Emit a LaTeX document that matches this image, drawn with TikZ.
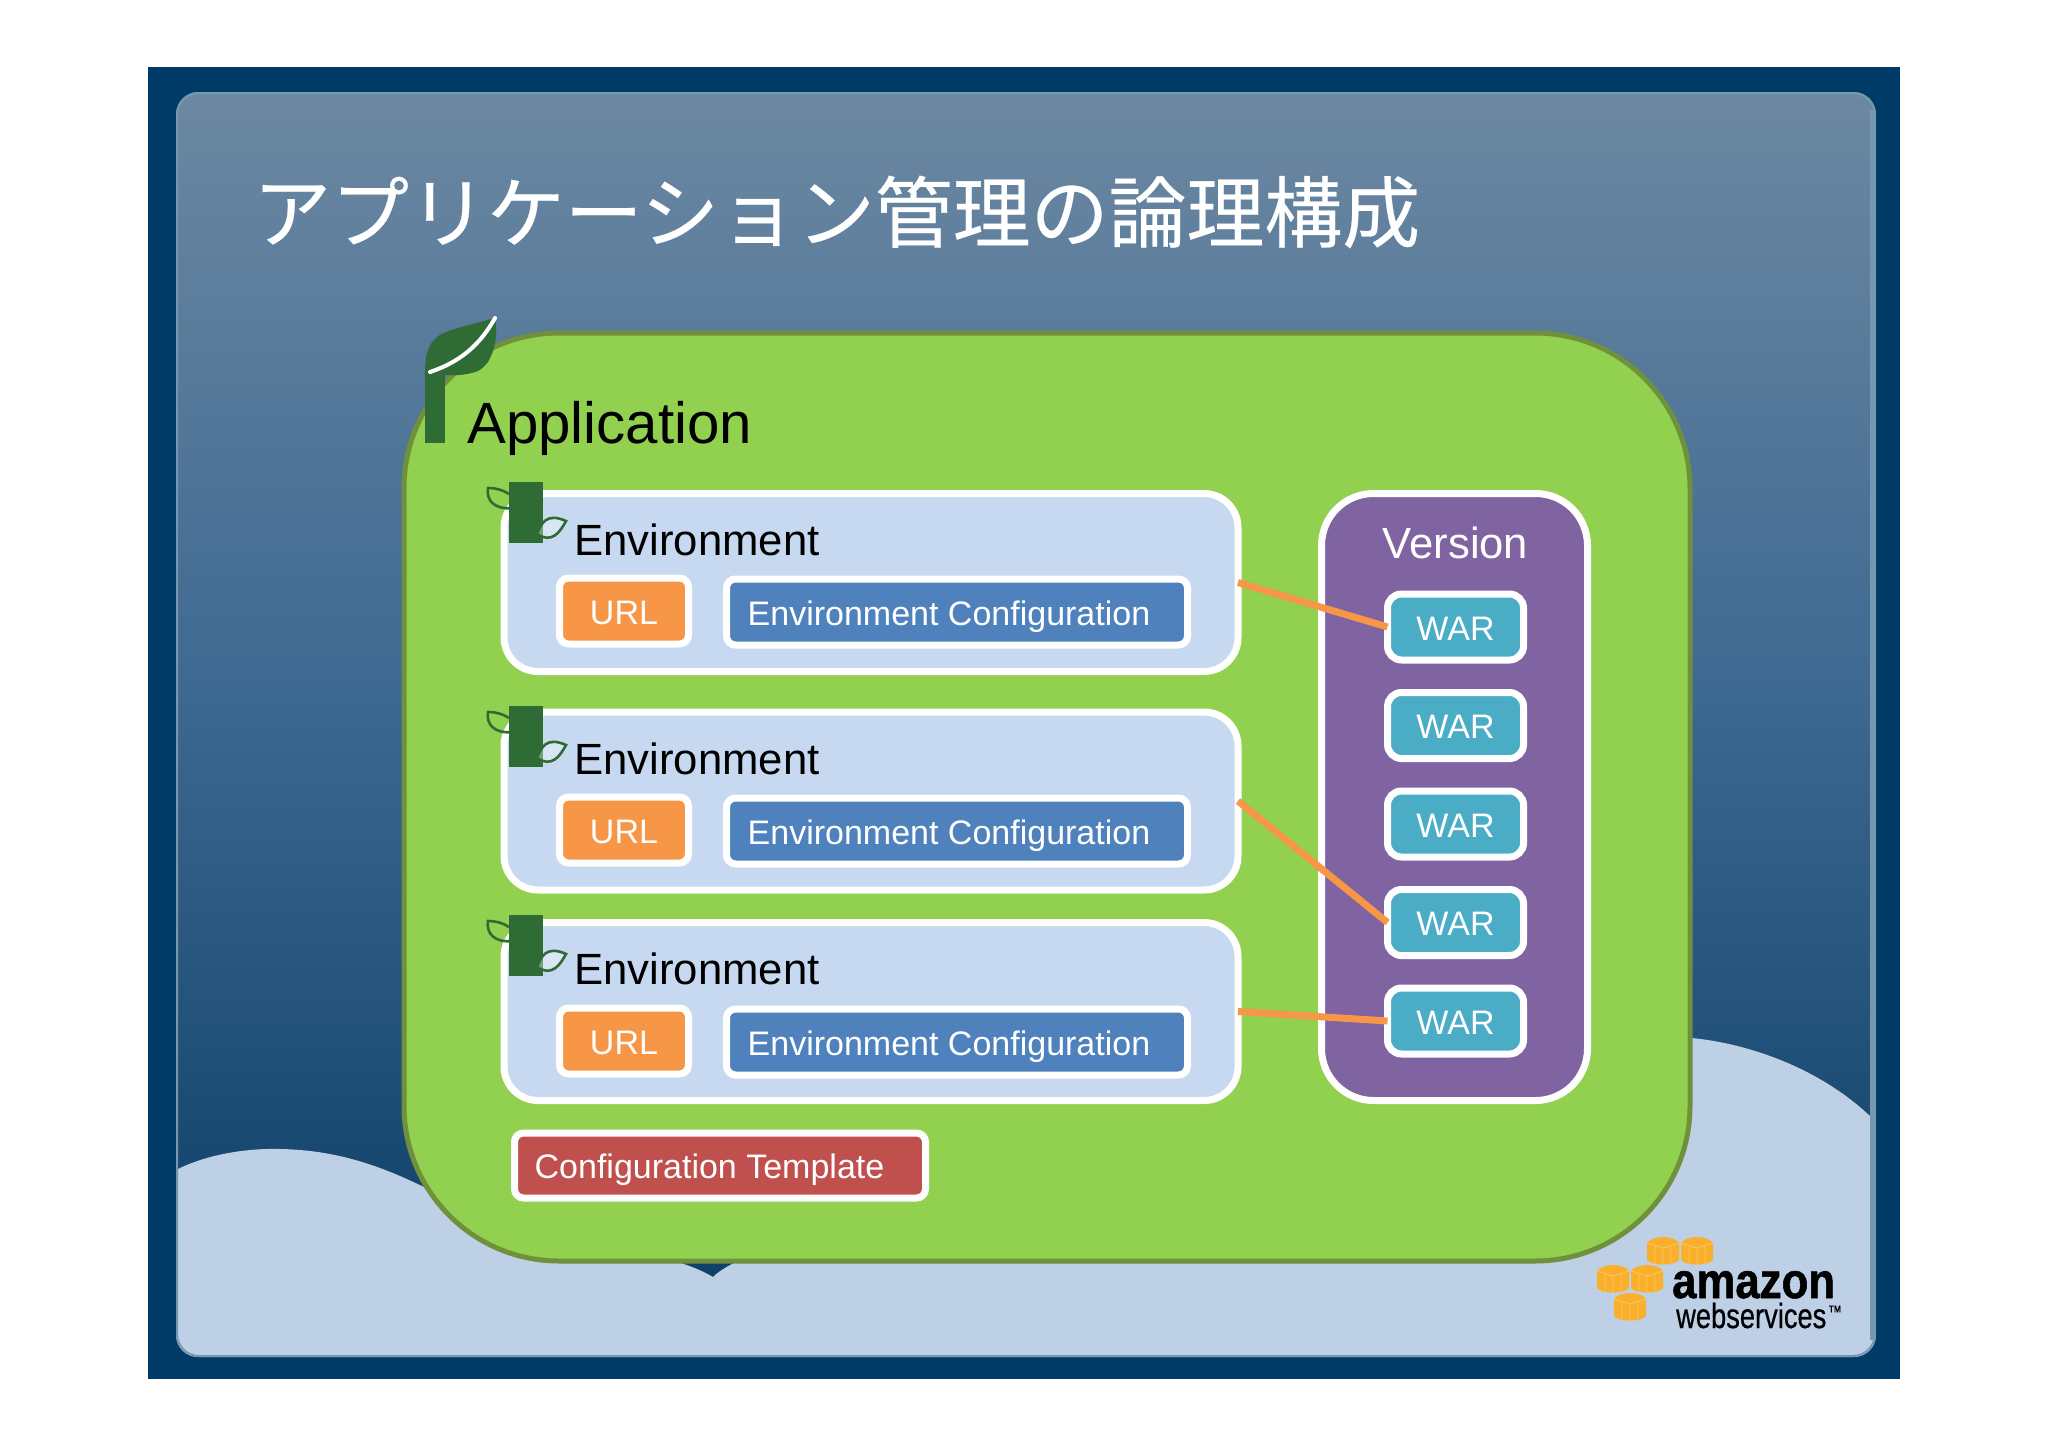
\documentclass[tikz,border=0pt]{standalone}
\usepackage{fontspec}
\setmainfont{Liberation Sans}
\newfontfamily\cjkfont[FakeBold=0.35]{Noto Sans CJK JP}
\newfontfamily\logobold[FakeBold=1.2]{Liberation Sans Bold}
\newfontfamily\logoreg[FakeBold=0.6]{Liberation Sans}
\definecolor{outerblue}{HTML}{003A66}
\definecolor{cloud}{HTML}{BDD0E5}
\definecolor{panelrim}{HTML}{7696B2}
\definecolor{appgreen}{HTML}{92D050}
\definecolor{appedge}{HTML}{71903C}
\definecolor{envblue}{HTML}{C6D9F1}
\definecolor{urlorange}{HTML}{F79646}
\definecolor{cfgblue}{HTML}{4F81BD}
\definecolor{tplred}{HTML}{C0504D}
\definecolor{warteal}{HTML}{4BACC6}
\definecolor{verpurple}{HTML}{8064A2}
\definecolor{leaf}{HTML}{2E6B35}
\definecolor{cube}{HTML}{FBB02B}
\tikzset{
  whitebox/.style={draw=white,line width=7pt,outer sep=0pt,inner sep=0pt,rounded corners=#1},
  boxtext/.style={text=white,font=\fontsize{34}{34}\selectfont,text height=26pt,text depth=0pt},
  envbox/.style={whitebox=34pt,fill=envblue,minimum width=734pt,minimum height=178pt},
  urlbox/.style={whitebox=9pt,fill=urlorange,boxtext,minimum width=129pt,minimum height=66pt},
  cfgbox/.style={whitebox=9pt,fill=cfgblue,boxtext,minimum width=461pt,minimum height=66pt},
  warbox/.style={whitebox=14pt,fill=warteal,boxtext,minimum width=136pt,minimum height=66pt},
  envlabel/.style={anchor=base west,inner sep=0pt,font=\fontsize{43.7}{44}\selectfont},
  link/.style={draw=urlorange,line width=7pt},
}
\newcommand{\envicon}[1]{%
  \fill[leaf] (509,#1) rectangle (543,#1+61);
  \draw[leaf,line width=2.6pt] (509,#1+12) .. controls (503,#1+8) and (496,#1+6) .. (488,#1+6) .. controls (486,#1+18) and (494,#1+28) .. (513,#1+26);
  \draw[leaf,line width=2.6pt,fill=white,fill opacity=.35] (537,#1+52) .. controls (541,#1+42) and (546,#1+30) .. (566,#1+39) .. controls (560,#1+50) and (552,#1+62) .. (537,#1+52);
}
\newcommand{\awscube}[2]{%
  \fill[cube] (#1-16,#2-9) .. controls (#1-10,#2-17) and (#1+10,#2-17) .. (#1+16,#2-9) -- (#1+16,#2+8) .. controls (#1+12,#2+14) and (#1-12,#2+14) .. (#1-16,#2+8) -- cycle;
  \draw[cube!70!white,line width=.7pt] (#1-16,#2-9) -- (#1,#2-4) -- (#1+16,#2-9) (#1,#2-4) -- (#1,#2+14) (#1-8,#2-6) -- (#1-8,#2+12) (#1+8,#2-6) -- (#1+8,#2+12);
}
\begin{document}
\begin{tikzpicture}[x=1pt,y=-1pt]
\useasboundingbox (0,0) rectangle (2048,1448);
\fill[white] (0,0) rectangle (2048,1448);
\fill[outerblue] (148,67) rectangle (1900,1379);
% panel
\begin{scope}
\clip[rounded corners=22pt] (176,92) rectangle (1876,1357);
\shade[top color={rgb,255:red,108;green,136;blue,162},
  bottom color={rgb,255:red,14;green,64;blue,104},
  middle color={rgb,255:red,62;green,105;blue,145}] (176,92) rectangle (1876,1280);
\fill[cloud] (176,1170) .. controls (205,1155) and (245,1148) .. (280,1149)
  .. controls (340,1150) and (385,1168) .. (426,1188)
  .. controls (520,1235) and (660,1245) .. (713,1277)
  .. controls (760,1225) and (1400,1050) .. (1692,1038)
  .. controls (1760,1045) and (1830,1075) .. (1876,1122)
  -- (1876,1357) -- (176,1357) -- cycle;
\draw[panelrim,line width=6pt] (1873,110) -- (1873,1340);
\end{scope}
\draw[rounded corners=22pt,draw=panelrim,line width=2pt] (177,93) rectangle (1875,1356);
% title
\node[anchor=west,inner sep=0pt,text=white,font=\cjkfont\fontsize{77.9}{78}\selectfont] (title) at (253,212) {アプリケーション管理の論理構成};
% application
\node[draw=appedge,fill=appgreen,line width=5pt,rounded corners=155pt,minimum width=1286pt,minimum height=928pt,outer sep=0pt] (app) at (1047,797) {};
\fill[leaf] (425,365) rectangle (445,443);
\fill[leaf] (425,372) -- (426,357) .. controls (429,345) and (433,340) .. (437,337) .. controls (445,330) and (470,325) .. (495,318) .. controls (498,335) and (495,350) .. (488,362) .. controls (484,367) and (480,370) .. (478,371) .. controls (465,376) and (450,376) .. (430,374) -- cycle;
\draw[white,line width=4pt,line cap=round] (430,372) .. controls (460,362) and (480,345) .. (495,318);
\node[anchor=base west,inner sep=0pt,font=\fontsize{58.2}{58}\selectfont] (applabel) at (467,443) {Application};
% environments
\node[envbox] (env1) at (871,582.5) {};
\node[envbox] (env2) at (871,801) {};
\node[envbox] (env3) at (871,1011.5) {};
\envicon{482}
\envicon{706}
\envicon{915}
\node[envlabel] (e1) at (574,555) {Environment};
\node[envlabel] (e2) at (574,774) {Environment};
\node[envlabel] (e3) at (574,984) {Environment};
\node[urlbox] (u1) at (624,611) {URL};
\node[cfgbox] (c1) at (957,612) {Environment Configuration\kern16pt};
\node[urlbox] (u2) at (624,830) {URL};
\node[cfgbox] (c2) at (957,831) {Environment Configuration\kern16pt};
\node[urlbox] (u3) at (624,1041) {URL};
\node[cfgbox] (c3) at (957,1042) {Environment Configuration\kern16pt};
\node[whitebox=9pt,fill=tplred,boxtext,minimum width=411pt,minimum height=65pt] (tpl) at (720,1165.5) {Configuration Template\kern21pt};
% version
\node[whitebox=52pt,fill=verpurple,minimum width=266pt,minimum height=607pt] (ver) at (1454.5,797) {};
\node[anchor=base,inner sep=0pt,text=white,font=\fontsize{43.6}{44}\selectfont] (verlabel) at (1455.5,558) {Version};
\node[warbox] (w1) at (1455.5,627) {WAR};
\node[warbox] (w2) at (1455.5,725.5) {WAR};
\node[warbox] (w3) at (1455.5,824) {WAR};
\node[warbox] (w4) at (1455.5,922.5) {WAR};
\node[warbox] (w5) at (1455.5,1021) {WAR};
\draw[link] (env1.east) -- (w1.west);
\draw[link] (env2.east) -- (w4.west);
\draw[link] (env3.east) -- (w5.west);
% logo
\awscube{1663}{1252}
\awscube{1697}{1252}
\awscube{1613}{1280}
\awscube{1647}{1280}
\awscube{1630}{1308}
\node[anchor=base west,inner sep=0pt,xscale=.875,font=\logobold\fontsize{50}{50}\selectfont] (amz) at (1672,1298) {amazon};
\node[anchor=base west,inner sep=0pt,xscale=.78,font=\logoreg\fontsize{35}{35}\selectfont] (aws) at (1676,1328) {webservices\kern2pt\raisebox{10pt}{\fontsize{18}{18}\selectfont ™}};
\end{tikzpicture}
\end{document}
